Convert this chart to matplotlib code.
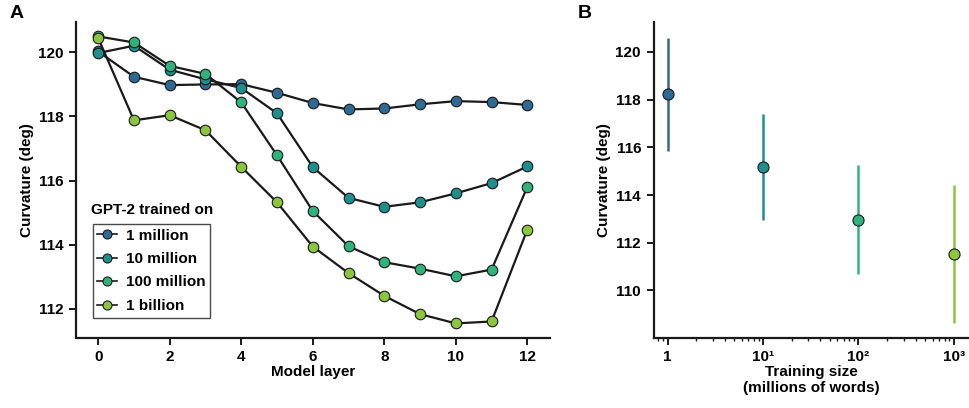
import matplotlib
matplotlib.use("Agg")
import matplotlib.pyplot as plt
from matplotlib.lines import Line2D
from matplotlib.ticker import FixedLocator, LogLocator, NullFormatter

plt.rcParams["font.family"] = ["Liberation Sans", "DejaVu Sans"]
plt.rcParams["font.weight"] = "bold"
plt.rcParams["axes.labelweight"] = "bold"

# Panel A: curvature per layer for each training-set size
layers = list(range(13))
series_labels = ["1 million", "10 million", "100 million", "1 billion"]
series_colors = ["#2e6a93", "#1f8f8e", "#2fb27c", "#8cc63f"]
curv_1m = [120.03, 119.24, 118.98, 119.00, 119.01, 118.74, 118.42,
           118.22, 118.25, 118.38, 118.48, 118.45, 118.36]
curv_10m = [119.98, 120.21, 119.46, 119.16, 118.89, 118.10, 116.42,
            115.46, 115.18, 115.32, 115.60, 115.92, 116.44]
curv_100m = [120.50, 120.31, 119.58, 119.33, 118.44, 116.79, 115.05,
             113.95, 113.45, 113.25, 113.01, 113.22, 115.80]
curv_1b = [120.45, 117.88, 118.04, 117.57, 116.43, 115.32, 113.94,
           113.11, 112.40, 111.83, 111.54, 111.60, 114.47]
series_values = [curv_1m, curv_10m, curv_100m, curv_1b]

# Panel B: minimum curvature vs training size
train_sizes = [1, 10, 100, 1000]
size_labels = ["1", "10¹", "10²", "10³"]
min_curv = [118.22, 115.17, 112.97, 111.51]
ci_low = [115.85, 112.97, 110.71, 108.63]
ci_high = [120.59, 117.38, 115.25, 114.41]

fig = plt.figure(figsize=(9.69, 4.08), dpi=100)
axA = fig.add_axes([76 / 969, 1 - 337.5 / 408, (549.5 - 76) / 969, (337.5 - 22) / 408])
axB = fig.add_axes([653.5 / 969, 1 - 337.5 / 408, (969 - 653.5) / 969, (337.5 - 22) / 408])

FS = 11

for vals, col, lab in zip(series_values, series_colors, series_labels):
    axA.plot(layers, vals, color="#1a1a1a", lw=1.6, marker="o", ms=7.6,
             mfc=col, mec="#1a1a1a", mew=0.8, label=lab, zorder=3)

axA.set_xlim(-0.62, 12.62)
axA.set_ylim(111.1, 120.95)
axA.set_xticks([0, 2, 4, 6, 8, 10, 12])
axA.set_yticks([112, 114, 116, 118, 120])
axA.set_xlabel("Model layer", fontsize=FS, labelpad=1)
axA.set_ylabel("Curvature (deg)", fontsize=FS, labelpad=3)

handles = [Line2D([], [], color="#1a1a1a", lw=1.2, marker="o", ms=6.5,
                  mfc=c, mec="#1a1a1a", mew=0.8) for c in series_colors]
leg = axA.legend(handles, series_labels, loc="lower left",
                 bbox_to_anchor=((92.5 - 76) / (549.5 - 76), (337.5 - 317.5) / (337.5 - 22)),
                 borderaxespad=0, fontsize=FS, frameon=True, fancybox=False,
                 edgecolor="#1a1a1a", handlelength=1.3, handletextpad=0.6,
                 labelspacing=0.62, borderpad=0.3)
leg.get_frame().set_linewidth(1.0)
axA.text((91 - 76) / (549.5 - 76), (337.5 - 210) / (337.5 - 22), "GPT-2 trained on",
         transform=axA.transAxes, fontsize=FS, fontweight="bold", va="center", ha="left")

for c, x, m, lo, hi in zip(series_colors, train_sizes, min_curv, ci_low, ci_high):
    axB.plot([x, x], [lo, hi], color=c, lw=1.8, solid_capstyle="butt", zorder=2)
    axB.plot([x], [m], marker="o", ms=8, mfc=c, mec="#1a1a1a", mew=0.8, zorder=3)

axB.set_xscale("log")
axB.set_xlim(0.713, 1445)
axB.set_ylim(108.03, 121.25)
axB.xaxis.set_major_locator(FixedLocator(train_sizes))
axB.set_xticklabels(size_labels)
axB.xaxis.set_minor_locator(LogLocator(base=10, subs=[2, 3, 4, 5, 6, 7, 8, 9], numticks=20))
axB.xaxis.set_minor_formatter(NullFormatter())
axB.set_yticks([110, 112, 114, 116, 118, 120])
axB.set_xlabel("Training size\n(millions of words)", fontsize=FS, labelpad=1,
               linespacing=1.15)
axB.set_ylabel("Curvature (deg)", fontsize=FS, labelpad=3)

for ax in (axA, axB):
    for s in ("top", "right"):
        ax.spines[s].set_visible(False)
    for s in ("left", "bottom"):
        ax.spines[s].set_linewidth(1.6)
        ax.spines[s].set_color("#1a1a1a")
    ax.tick_params(which="major", direction="out", length=5, width=1.4,
                   color="#1a1a1a", labelsize=FS, pad=4)
    ax.tick_params(which="minor", direction="out", length=2.5, width=1.0,
                   color="#1a1a1a")
    for t in ax.get_xticklabels() + ax.get_yticklabels():
        t.set_fontweight("bold")

fig.text(10 / 969, 1 - 14 / 408, "A", fontsize=14, fontweight="bold", ha="left", va="center")
fig.text(578 / 969, 1 - 14 / 408, "B", fontsize=14, fontweight="bold", ha="left", va="center")

fig.savefig("out.png", dpi=100)
